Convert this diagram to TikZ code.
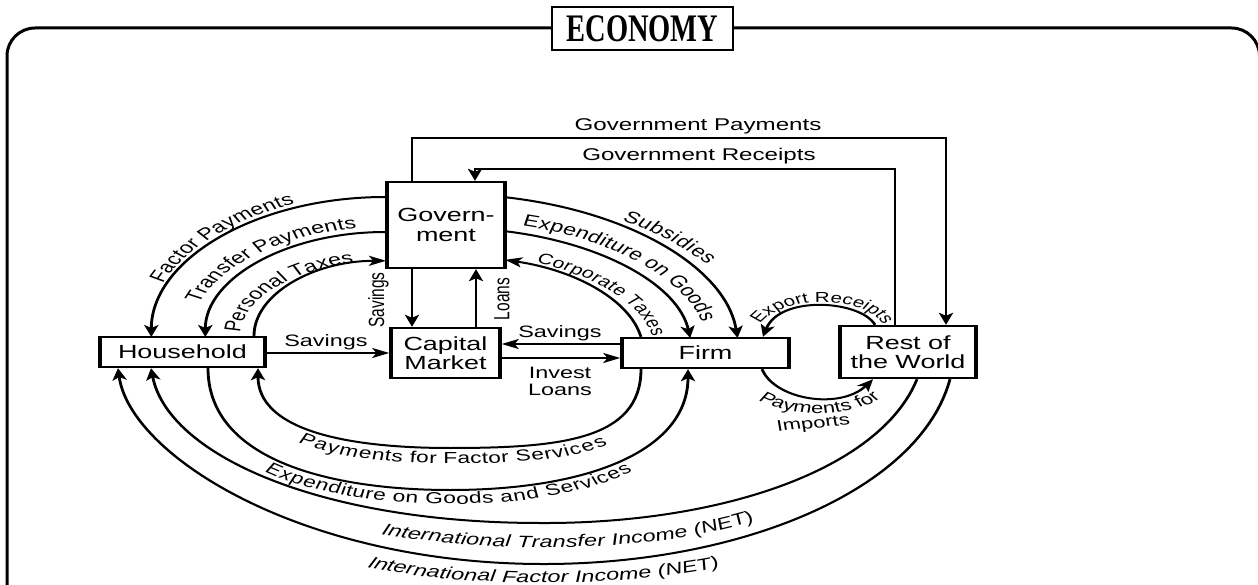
\documentclass[tikz,border=0pt]{standalone}
\usepackage{fontspec}
\setmainfont{Liberation Sans}
\newfontfamily\dgTitleFam{Liberation Serif}[FakeStretch=0.73]
\usetikzlibrary{arrows.meta,decorations.text,calc}
\newcommand\dgTitle{\dgTitleFam\bfseries\fontsize{39}{40}\selectfont}
\newcommand\dgBox{\fontsize{19}{19.5}\selectfont}
\newcommand\dgLbl{\fontsize{16.5}{17}\selectfont}
\newcommand\dgBot{\fontsize{16}{17}\selectfont}
\newcommand\dgCT{\fontsize{15}{16}\selectfont}
\newcommand\dgGov{\fontsize{17}{18}\selectfont}
\newcommand\dgVert{\fontsize{15.5}{16}\selectfont}
\newcommand\dgSmall{\fontsize{15.5}{16}\selectfont}
\newcommand\dgER{\fontsize{14.5}{15}\selectfont}
\newcommand\dgIt{\fontsize{16.5}{17}\selectfont\itshape}
\begin{document}
\begin{tikzpicture}[x=1pt,y=1pt,
  frameline/.style={line width=3pt, rounded corners=28pt},
  titlebox/.style={draw, line width=2.2pt, fill=white, minimum width=181pt, minimum height=43pt, inner sep=0pt, font=\dgTitle},
  box/.style={draw, line width=2.4pt, fill=white, inner sep=0pt, align=center, font=\dgBox},
  flow/.style={line width=2pt, -{Stealth[length=12pt,width=10pt,inset=3pt]}},
  lbl/.style={inner sep=0pt, font=\dgLbl},
  alongtext/.style={decorate, decoration={text along path, text align={fit to path}, text={#1}}},
  belowtext/.style n args={2}{decorate, decoration={text along path, text align=center, raise=#1, text={#2}}},
]
\useasboundingbox (0,0) rectangle (1258,-585);
\clip (0,0) rectangle (1258,-585);
\draw[frameline] (7,-600) -- (7,-28) -- (1259.5,-28) -- (1259.5,-600);
\node[titlebox] (title) at (642.5,-28.5) {ECONOMY};

\begin{scope}[x=0.704225pt, y=1pt, transform canvas={xscale=1.42}]
% boxes
\node[box, minimum width=116.2pt, minimum height=30pt] (hh) at (182.5,-352) {Household};
\node[box, minimum width=76.8pt, minimum height=50pt] (cm) at (445.5,-353) {Capital\\Market};
\node[box, minimum width=117.6pt, minimum height=30pt] (firm) at (705.5,-353) {Firm};
\node[box, minimum width=95.8pt, minimum height=52pt] (row) at (908,-352) {Rest of\\the World};
\node[box, minimum width=83.1pt, minimum height=86pt] (gov) at (446,-225) {Govern-\\ment};
\coordinate (gpc) at (946,-138);
\coordinate (grc) at (475,-169);

% straight flows
\draw[flow] (gov.north -| 412,0) |- (gpc) -- (row.north -| gpc);
\draw[flow] (row.north -| 895,0) |- (grc) -- (gov.north -| grc);
\draw[flow] (gov.south -| 412,0) -- (cm.north -| 412,0);
\draw[flow] (cm.north -| 476,0) -- (gov.south -| 476,0);
\draw[flow] (hh.east |- 0,-353) -- (cm.west |- 0,-353);
\draw[flow] (firm.west |- 0,-344) -- (cm.east |- 0,-344);
\draw[flow] (cm.east |- 0,-358) -- (firm.west |- 0,-358);

% top left arcs
\draw[flow] (gov.west |- 0,-197) arc[start angle=90, end angle=180, x radius=234, y radius=140];
\draw[flow] (gov.west |- 0,-232) arc[start angle=90, end angle=180, x radius=180, y radius=105];
\draw[flow] (hh.north -| 254,0) arc[start angle=180, end angle=90, x radius=132, y radius=75];
% top right arcs
\draw[flow] (gov.east |- 0,-197.4) arc[start angle=78.06, end angle=5.08, x radius=292.5, y radius=158];
\draw[flow] (gov.east |- 0,-231.4) arc[start angle=76.47, end angle=6.48, x radius=241.5, y radius=124];
\draw[flow] (firm.north -| 640.9,0) arc[start angle=8.47, end angle=73.22, x radius=194, y radius=95];
% bottom arcs
\draw[flow] (firm.south -| 641,0) .. controls (641,-440) and (560,-448) .. (450,-448) .. controls (340,-448) and (258,-428) .. (hh.south -| 258,0);
\draw[flow] (hh.south -| 208,0) .. controls (208,-460) and (330,-490) .. (450,-490) .. controls (590,-490) and (688,-450) .. (firm.south -| 688,0);
\draw[flow] (row.south -| 917,0) .. controls (880,-470) and (720,-524) .. (540,-523) .. controls (320,-523) and (168,-455) .. (hh.south -| 151,0);
\draw[flow] (row.south -| 950,0) .. controls (920,-490) and (740,-565) .. (540,-564) .. controls (300,-563) and (130,-455) .. (hh.south -| 118,0);
\draw[flow] (firm.south -| 762,0) .. controls (775,-400) and (840,-410) .. (row.south -| 873,0);
\draw[flow] (row.north -| 875,0) .. controls (860,-300) and (780,-295) .. (firm.north -| 763,0);

% straight labels
\node[lbl, font=\dgGov] (gpl) at (698,-126) {Government Payments};
\node[lbl, font=\dgGov] (grl) at (699,-156.5) {Government Receipts};
\node[lbl, anchor=base] (sv1) at (326,-346) {Savings};
\node[lbl, anchor=base] (sv2) at (560,-337) {Savings};
\node[lbl, anchor=north, align=center] (inv) at (560,-367) {Invest\\Loans};
\node[lbl, font=\dgVert, rotate=90] (sv3) at (378.5,-300) {Savings};
\node[lbl, font=\dgVert, rotate=90] (ln) at (502,-299) {Loans};
\node[lbl, font=\dgSmall, anchor=base, rotate=7] (imp) at (814,-428) {Imports};

% curved labels
\path[alongtext={|\dgLbl|Factor Payments}] ($(387,-337)+(158:242 and 144)$) arc[start angle=158, end angle=112.3, x radius=242, y radius=144];
\path[alongtext={|\dgLbl|Transfer Payments}] ($(387,-337)+(162.5:197 and 110)$) arc[start angle=162.5, end angle=98.8, x radius=197, y radius=110];
\path[alongtext={|\dgLbl|Personal Taxes}] ($(387,-337)+(177:147 and 76)$) arc[start angle=177, end angle=103.4, x radius=147, y radius=76];
\path[alongtext={|\dgLbl|Subsidies}] ($(444.5,-352)+(55.5:313 and 160)$) arc[start angle=55.5, end angle=33, x radius=313, y radius=160];
\path[alongtext={|\dgLbl|Expenditure on Goods}] ($(448.5,-352)+(73.6:260.4 and 131.3)$) arc[start angle=73.6, end angle=13.2, x radius=260.4, y radius=131.3];
\path[alongtext={|\dgCT|Corporate Taxes}] ($(449,-352)+(65:206 and 98.3)$) arc[start angle=65, end angle=9, x radius=206, y radius=98.3];
\path[belowtext={-15.5pt}{|\dgBot|Payments for Factor Services}] (258,-368) .. controls (258,-428) and (340,-448) .. (450,-448) .. controls (560,-448) and (641,-440) .. (641,-368);
\path[belowtext={-14pt}{|\dgBot|Expenditure on Goods and Services}] (208,-368) .. controls (208,-460) and (330,-490) .. (450,-490) .. controls (590,-490) and (688,-450) .. (688,-368);
\path[alongtext={|\dgIt|International Transfer Income (NET)}] (381,-534) .. controls (480,-552) and (640,-556) .. (755,-521);
\path[alongtext={|\dgIt|International Factor Income (NET)}] (367,-567) .. controls (460,-588) and (620,-588) .. (720,-567);
\path[alongtext={|\dgSmall|Payments for}] (758,-400) .. controls (790,-418) and (850,-418) .. (881,-398);
\path[alongtext={|\dgER|Export Receipts}] (760,-324) .. controls (785,-295) and (860,-295) .. (882,-323);
\end{scope}
\end{tikzpicture}
\end{document}
